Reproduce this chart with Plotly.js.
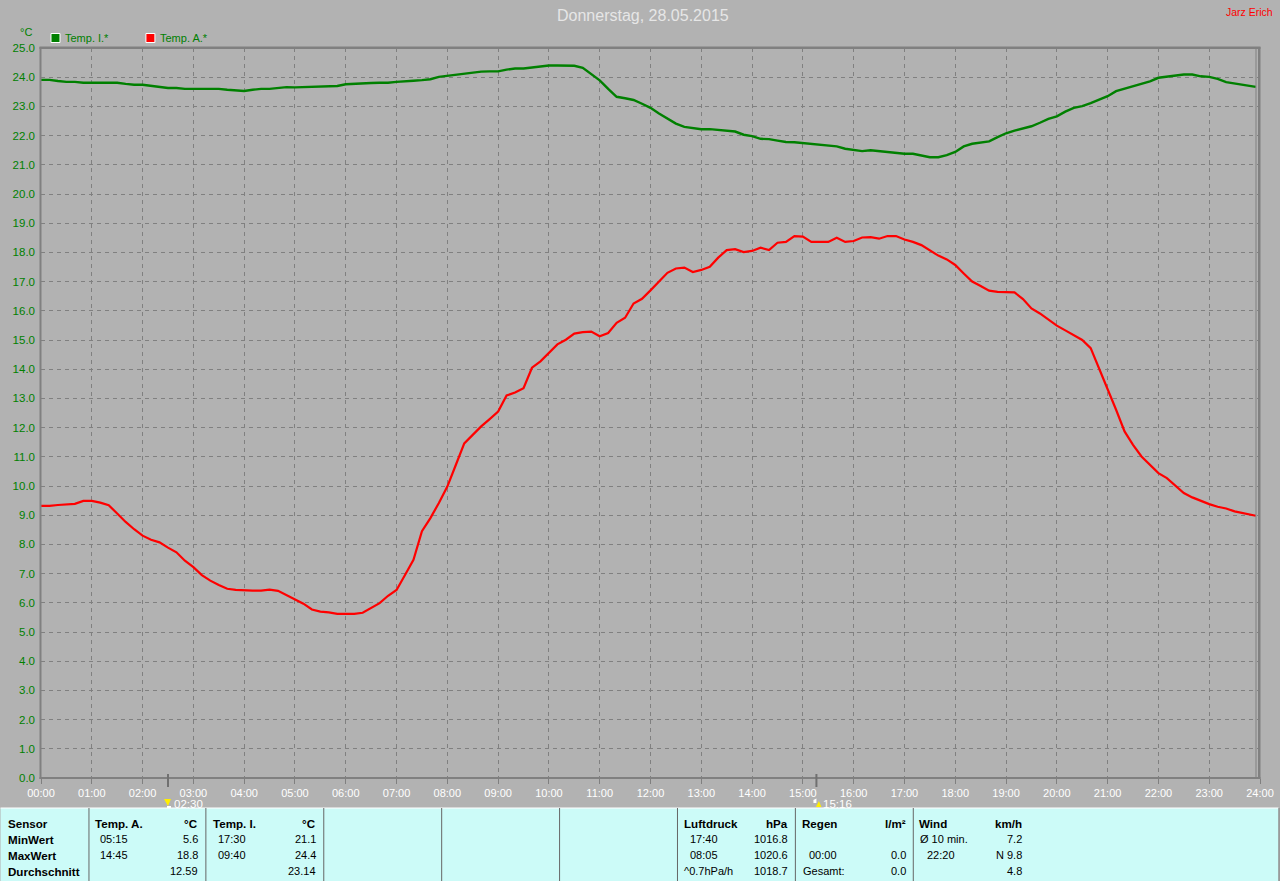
<!DOCTYPE html>
<html>
<head>
<meta charset="utf-8">
<script src="https://cdn.plot.ly/plotly-3.0.1.min.js"></script>
<style>html,body{margin:0;padding:0;background:#b2b2b2;overflow:hidden}#chart{width:1280px;height:881px}</style>
</head>
<body>
<div id="chart"></div>
<script>
const sampleMinutes = [0,10,20,30,40,50,60,70,80,90,100,110,120,130,140,150,160,170,180,190,200,210,220,230,240,250,260,270,280,290,300,310,320,330,340,350,360,370,380,390,400,410,420,430,440,450,460,470,480,490,500,510,520,530,540,550,560,570,580,590,600,610,620,630,640,650,660,670,680,690,700,710,720,730,740,750,760,770,780,790,800,810,820,830,840,850,860,870,880,890,900,910,920,930,940,950,960,970,980,990,1000,1010,1020,1030,1040,1050,1060,1070,1080,1090,1100,1110,1120,1130,1140,1150,1160,1170,1180,1190,1200,1210,1220,1230,1240,1250,1260,1270,1280,1290,1300,1310,1320,1330,1340,1350,1360,1370,1380,1390,1400,1410,1420,1430,1435];

const tempInnen = [23.91,23.91,23.87,23.84,23.84,23.81,23.81,23.81,23.81,23.81,23.77,23.74,23.74,23.70,23.67,23.63,23.63,23.60,23.60,23.60,23.60,23.60,23.57,23.55,23.53,23.57,23.60,23.60,23.62,23.66,23.65,23.66,23.67,23.68,23.70,23.70,23.76,23.78,23.79,23.80,23.81,23.81,23.84,23.87,23.88,23.90,23.93,24.01,24.05,24.08,24.13,24.16,24.19,24.20,24.20,24.26,24.30,24.30,24.33,24.36,24.40,24.40,24.40,24.39,24.32,24.11,23.89,23.60,23.33,23.28,23.22,23.09,22.95,22.76,22.58,22.41,22.30,22.26,22.22,22.22,22.19,22.16,22.14,22.03,21.98,21.89,21.88,21.83,21.78,21.77,21.74,21.70,21.68,21.66,21.63,21.55,21.50,21.47,21.50,21.47,21.44,21.41,21.38,21.38,21.31,21.26,21.26,21.33,21.44,21.63,21.72,21.75,21.80,21.95,22.08,22.17,22.25,22.32,22.44,22.57,22.66,22.82,22.95,23.01,23.11,23.24,23.35,23.52,23.60,23.68,23.77,23.86,23.98,24.02,24.06,24.09,24.09,24.03,24.01,23.94,23.83,23.78,23.73,23.69,23.67];

const tempAussen = [9.32,9.32,9.35,9.38,9.39,9.49,9.49,9.43,9.34,9.06,8.77,8.52,8.30,8.16,8.07,7.89,7.73,7.44,7.22,6.95,6.76,6.61,6.48,6.44,6.42,6.42,6.42,6.45,6.41,6.27,6.12,5.97,5.77,5.70,5.67,5.62,5.62,5.62,5.66,5.82,5.99,6.24,6.44,6.95,7.47,8.45,8.90,9.42,9.98,10.72,11.46,11.75,12.04,12.29,12.55,13.10,13.20,13.35,14.05,14.27,14.56,14.85,15.01,15.22,15.27,15.29,15.13,15.24,15.59,15.76,16.25,16.41,16.70,17.00,17.30,17.45,17.48,17.33,17.40,17.51,17.82,18.08,18.11,18.01,18.05,18.16,18.08,18.33,18.36,18.56,18.54,18.36,18.36,18.36,18.50,18.36,18.39,18.51,18.52,18.47,18.56,18.56,18.44,18.36,18.25,18.08,17.89,17.76,17.57,17.28,17.00,16.85,16.69,16.65,16.65,16.63,16.40,16.08,15.91,15.69,15.49,15.33,15.17,15.00,14.72,14.03,13.35,12.61,11.87,11.41,11.01,10.73,10.44,10.27,10.01,9.76,9.61,9.49,9.38,9.29,9.23,9.13,9.07,9.00,8.98];

const hourTicks = [0,60,120,180,240,300,360,420,480,540,600,660,720,780,840,900,960,1020,1080,1140,1200,1260,1320,1380,1440];
const hourLabels = ["00:00","01:00","02:00","03:00","04:00","05:00","06:00","07:00","08:00","09:00","10:00","11:00","12:00","13:00","14:00","15:00","16:00","17:00","18:00","19:00","20:00","21:00","22:00","23:00","24:00"];
const sunEventMinutes = [150,916];
const sunEventLabels = ["02:30","15:16"];
const legendNames = ["Temp. I.*","Temp. A.*"];
const legendColors = ["#008000","#ff0000"];
const separatorsPx = [88,205,323,441,559,677,795,913];

const tableLeft = [
 ["Sensor",6.5,0,true],["MinWert",6.5,1,true],["MaxWert",6.5,2,true],["Durchschnitt",6.5,3,true],
 ["Temp. A.",93.5,0,true],["05:15",99,1],["14:45",99,2],
 ["Temp. I.",211.5,0,true],["17:30",217,1],["09:40",217,2],
 ["Luftdruck",683.5,0,true],["17:40",689,1],["08:05",689,2],["^0.7hPa/h",683,3],
 ["Regen",801.5,0,true],["00:00",808,2],["Gesamt:",802,3],
 ["Wind",918.5,0,true],["Ø 10 min.",919,1],["22:20",926,2]
];
const tableRight = [
 ["°C",199,0,true],["5.6",199,1],["18.8",199,2],["12.59",199,3],
 ["°C",317,0,true],["21.1",317,1],["24.4",317,2],["23.14",317,3],
 ["hPa",789,0,true],["1016.8",789,1],["1020.6",789,2],["1018.7",789,3],
 ["l/m²",907,0,true],["0.0",907,2],["0.0",907,3],
 ["km/h",1023,0,true],["7.2",1023,1],["N 9.8",1023,2],["4.8",1023,3]
];

const FONT = "Liberation Sans, Arial, sans-serif";
const L = 40.5, R = 1260.5, T = 48, B = 778;
const px = v => (v - L) / (R - L);
const py = v => (B - v) / (B - T);
const rowY = [823,839,855,871];

function label(text, x, y, opts) {
  opts = opts || {};
  return {
    text: opts.bold ? "<b>" + text + "</b>" : text,
    xref: "paper", yref: "paper", x: px(x), y: py(y),
    xanchor: opts.anchor || "left", yanchor: "middle",
    showarrow: false, borderpad: 0,
    font: {family: FONT, size: opts.size || 11, color: opts.color || "#000000"}
  };
}
function box(x0, y0, x1, y1, fill, lineColor, lineWidth, layer) {
  return {type: "rect", xref: "paper", yref: "paper", x0: px(x0), x1: px(x1), y0: py(y0), y1: py(y1),
          fillcolor: fill, line: {color: lineColor || fill, width: lineWidth === undefined ? 0 : lineWidth}, layer: layer || "above"};
}
function path(points, fill) {
  const d = points.map((p, i) => (i ? "L" : "M") + px(p[0]) + "," + py(p[1])).join(" ") + " Z";
  return {type: "path", xref: "paper", yref: "paper", path: d, fillcolor: fill, line: {color: fill, width: 0}, layer: "above"};
}

const shapes = [];
// table panel
shapes.push(box(0, 808, 1279, 881, "#ccfbf8"));
shapes.push(box(0, 807.5, 1279, 808.5, "#ffffff"));
shapes.push(box(1279, 808, 1280, 881, "#808080"));
separatorsPx.forEach(x => shapes.push(box(x, 808, x + 1, 881, "#666666")));
// frame
shapes.push(box(39, 47, 41, 779, "#808080"));
shapes.push(box(39, 46.5, 1261, 49, "#808080"));
shapes.push(box(39, 777, 1261, 779, "#808080"));
shapes.push(box(1258.5, 47, 1261, 779, "#808080"));
shapes.push(box(1256, 47, 1257, 779, "#808080"));
// sun event markers
sunEventMinutes.forEach(m => {
  const x = L + (R - L) * m / 1440;
  shapes.push(box(x - 1, 774, x + 1, 787, "#707070"));
});
const e0 = L + (R - L) * sunEventMinutes[0] / 1440, e1 = L + (R - L) * sunEventMinutes[1] / 1440;
shapes.push(path([[e0-4,799],[e0+3,799],[e0,806]], "#ffee00"));
shapes.push(path([[e0-1,806],[e0+3,806],[e0+3,808],[e0-1,808]], "#ffffff"));
shapes.push(path([[e1-3,800],[e1,798.5],[e1,803],[e1-3,803]], "#ffffff"));
shapes.push(path([[e1-0.5,807],[e1+5,807],[e1+2.5,801]], "#ffee00"));
// legend swatches
legendColors.forEach((c, i) => {
  const x = [50.5, 145.5][i];
  shapes.push(box(x, 33.5, x + 9, 42.5, c, "#ffffff", 1));
});

const annotations = [];
annotations.push(label("Donnerstag, 28.05.2015", 642.5, 15.5, {anchor: "center", size: 16, color: "#e6e6e6"}));
annotations.push(label("Jarz Erich", 1275, 12, {anchor: "right", size: 10.5, color: "#ff0000"}));
annotations.push(label("°C", 25, 32.5, {anchor: "center", size: 11, color: "#008000"}));
legendNames.forEach((n, i) => annotations.push(label(n, [64, 159][i], 38, {size: 11, color: "#008000"})));
sunEventLabels.forEach((t, i) => annotations.push(label(t, [173, 822][i], 803.5, {size: 11.5, color: "#ffffff"})));
tableLeft.forEach(r => annotations.push(label(r[0], r[1], rowY[r[2]], {bold: r[3], size: r[3] ? 11.6 : 11})));
tableRight.forEach(r => annotations.push(label(r[0], r[1], rowY[r[2]], {bold: r[3], size: r[3] ? 11.6 : 11, anchor: "right"})));

const traces = [
  {x: sampleMinutes, y: tempInnen, mode: "lines", name: legendNames[0], line: {color: legendColors[0], width: 2.4}, hoverinfo: "skip"},
  {x: sampleMinutes, y: tempAussen, mode: "lines", name: legendNames[1], line: {color: legendColors[1], width: 2.2}, hoverinfo: "skip"}
];

const layout = {
  width: 1280, height: 881, autosize: false,
  paper_bgcolor: "#b2b2b2", plot_bgcolor: "#b2b2b2",
  showlegend: false,
  margin: {l: L, r: 1280 - R, t: T, b: 881 - B, pad: 0},
  xaxis: {
    range: [0, 1440], tickmode: "array", tickvals: hourTicks, ticktext: hourLabels,
    ticks: "outside", ticklen: 5, tickcolor: "#808080", tickwidth: 1,
    tickfont: {family: FONT, size: 11, color: "#ffffff"},
    showgrid: true, gridcolor: "#808080", gridwidth: 1, griddash: "4px,4px",
    zeroline: false, showline: false, fixedrange: true
  },
  yaxis: {
    range: [0, 25], tick0: 0, dtick: 1, tickformat: ".1f",
    ticks: "", ticklabelstandoff: 5,
    tickfont: {family: FONT, size: 11.5, color: "#008000"},
    showgrid: true, gridcolor: "#808080", gridwidth: 1, griddash: "4px,4px",
    zeroline: false, showline: false, fixedrange: true
  },
  shapes: shapes,
  annotations: annotations
};

Plotly.newPlot("chart", traces, layout, {staticPlot: true, displayModeBar: false});
</script>
</body>
</html>
